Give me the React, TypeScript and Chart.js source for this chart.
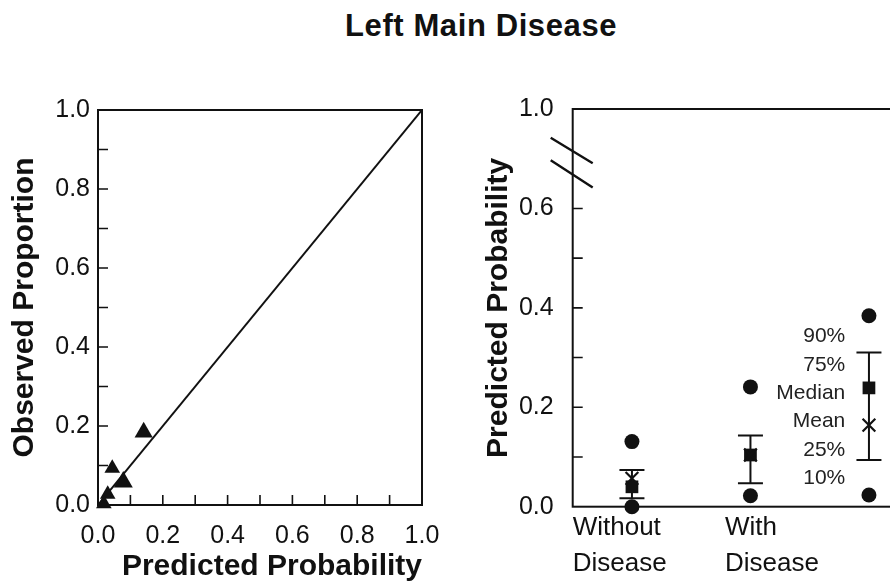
import React, { useEffect, useRef } from "react";
import { Chart, registerables } from "chart.js";

Chart.register(...registerables);

const FONT = "'Liberation Sans', Arial, Helvetica, sans-serif";
const INK = "#111111";

const TITLE = "Left Main Disease";

// ---- Left panel: calibration ----
const calibPredicted = [0.141, 0.044, 0.078, 0.03, 0.018];
const calibObserved = [0.184, 0.093, 0.058, 0.027, 0.003];
const identityX = [0, 1];
const identityY = [0, 1];
const leftTickValues = [0, 0.1, 0.2, 0.3, 0.4, 0.5, 0.6, 0.7, 0.8, 0.9, 1.0];
const leftTickLabels = ["0.0", "", "0.2", "", "0.4", "", "0.6", "", "0.8", "", "1.0"];
const leftMarkTicks = [0.1, 0.2, 0.3, 0.4, 0.5, 0.6, 0.7, 0.8, 0.9];
const leftXTitle = "Predicted Probability";
const leftYTitle = "Observed Proportion";

// ---- Right panel: distribution summaries ----
const groupLabels = [["Without", "Disease"], ["With", "Disease"]];
const groupLabelAnchors = [0, 1.285];
const groupX = [0.5, 1.5, 2.5]; // Without, With, key column
const p10 = [0.0, 0.022, 0.0235];
const p25 = [0.017, 0.047, 0.094];
const medians = [0.04, 0.104, 0.239];
const means = [0.057, 0.104, 0.164];
const p75 = [0.074, 0.143, 0.31];
const p90 = [0.131, 0.241, 0.384];
const keyLabels = ["90%", "75%", "Median", "Mean", "25%", "10%"];
const keyLabelY = [0.342, 0.285, 0.229, 0.171, 0.114, 0.057];
const keyLabelX = 2.3;
const rightYTickValues = [0, 0.1, 0.2, 0.3, 0.4, 0.5, 0.6, 0.7, 0.8];
const rightYTickLabels = ["0.0", "", "0.2", "", "0.4", "", "0.6", "", "1.0"];
const rightMarkTicks = [0.1, 0.2, 0.3, 0.4, 0.5, 0.6];
const axisBreakMarks = [
  [0.742, 0.691],
  [0.697, 0.642],
];
const rightYTitle = "Predicted Probability";

function drawBox(chart: any) {
  const { ctx, chartArea } = chart;
  ctx.save();
  ctx.strokeStyle = INK;
  ctx.lineWidth = 2;
  ctx.strokeRect(chartArea.left, chartArea.top, chartArea.right - chartArea.left, chartArea.bottom - chartArea.top);
  ctx.restore();
}

function drawInwardTicks(chart: any, xVals: number[], yVals: number[], len: number) {
  const { ctx, chartArea, scales } = chart;
  ctx.save();
  ctx.strokeStyle = INK;
  ctx.lineWidth = 1.6;
  ctx.beginPath();
  xVals.forEach((v) => {
    const px = scales.x.getPixelForValue(v);
    ctx.moveTo(px, chartArea.bottom);
    ctx.lineTo(px, chartArea.bottom - len);
  });
  yVals.forEach((v) => {
    const py = scales.y.getPixelForValue(v);
    ctx.moveTo(chartArea.left, py);
    ctx.lineTo(chartArea.left + len, py);
  });
  ctx.stroke();
  ctx.restore();
}

const leftPlugin = {
  id: "leftDecor",
  beforeDatasetsDraw(chart: any) {
    drawBox(chart);
    drawInwardTicks(chart, leftMarkTicks, leftMarkTicks, 10);
  },
};

const rightPlugin = {
  id: "rightDecor",
  beforeDatasetsDraw(chart: any) {
    const { ctx, chartArea, scales } = chart;
    drawBox(chart);
    drawInwardTicks(chart, [], rightMarkTicks, 10);
    // axis break marks
    ctx.save();
    ctx.strokeStyle = INK;
    ctx.lineWidth = 2.4;
    ctx.beginPath();
    axisBreakMarks.forEach(([a, b]) => {
      ctx.moveTo(chartArea.left - 22, scales.y.getPixelForValue(a));
      ctx.lineTo(chartArea.left + 20, scales.y.getPixelForValue(b));
    });
    ctx.stroke();
    // interquartile bars
    ctx.lineWidth = 2;
    ctx.beginPath();
    groupX.forEach((gx, i) => {
      const px = scales.x.getPixelForValue(gx);
      const yLo = scales.y.getPixelForValue(p25[i]);
      const yHi = scales.y.getPixelForValue(p75[i]);
      ctx.moveTo(px, yLo);
      ctx.lineTo(px, yHi);
      ctx.moveTo(px - 12.5, yLo);
      ctx.lineTo(px + 12.5, yLo);
      ctx.moveTo(px - 12.5, yHi);
      ctx.lineTo(px + 12.5, yHi);
    });
    ctx.stroke();
    // key labels
    ctx.fillStyle = "#222";
    ctx.font = `21px ${FONT}`;
    ctx.textAlign = "right";
    ctx.textBaseline = "middle";
    const kx = scales.x.getPixelForValue(keyLabelX);
    keyLabels.forEach((t, i) => {
      ctx.fillText(t, kx, scales.y.getPixelForValue(keyLabelY[i]));
    });
    ctx.restore();
  },
};

function LeftPanel() {
  const ref = useRef<HTMLCanvasElement>(null);
  useEffect(() => {
    const chart = new Chart(ref.current as HTMLCanvasElement, {
      type: "scatter",
      data: {
        datasets: [
          {
            data: calibPredicted.map((x, i) => ({ x, y: calibObserved[i] })),
            pointStyle: "triangle",
            pointRadius: [10.5, 9, 11, 9, 9],
            backgroundColor: INK,
            borderColor: INK,
            borderWidth: 0,
            clip: false,
          } as any,
          {
            data: identityX.map((x, i) => ({ x, y: identityY[i] })),
            showLine: true,
            pointRadius: 0,
            borderColor: INK,
            borderWidth: 2,
          } as any,
        ],
      },
      options: {
        responsive: false,
        animation: false,
        events: [],
        layout: { padding: { left: 0, top: 110, right: 48, bottom: 0 } },
        plugins: { legend: { display: false }, tooltip: { enabled: false } },
        scales: {
          x: {
            type: "linear",
            min: 0,
            max: 1,
            afterBuildTicks: (s: any) => {
              s.ticks = leftTickValues.map((v) => ({ value: v }));
            },
            afterFit: (s: any) => {
              s.height = 80;
            },
            grid: { display: false, drawTicks: false },
            border: { display: false },
            ticks: {
              autoSkip: false,
              maxRotation: 0,
              padding: 16,
              color: INK,
              font: { family: FONT, size: 25 },
              callback: (_v: any, i: number) => leftTickLabels[i],
            },
            title: {
              display: true,
              text: leftXTitle,
              align: "end",
              color: INK,
              font: { family: FONT, size: 30, weight: "bold" },
              padding: { top: 0, bottom: 0 },
            },
          },
          y: {
            type: "linear",
            min: 0,
            max: 1,
            afterBuildTicks: (s: any) => {
              s.ticks = leftTickValues.map((v) => ({ value: v }));
            },
            afterFit: (s: any) => {
              s.width = 98;
            },
            grid: { display: false, drawTicks: false },
            border: { display: false },
            ticks: {
              autoSkip: false,
              padding: 8,
              color: INK,
              font: { family: FONT, size: 25 },
              callback: (_v: any, i: number) => leftTickLabels[i],
            },
            title: {
              display: true,
              text: leftYTitle,
              color: INK,
              font: { family: FONT, size: 30, weight: "bold" },
              padding: { top: 6.6, bottom: 0 },
            },
          },
        },
      } as any,
      plugins: [leftPlugin],
    });
    return () => chart.destroy();
  }, []);
  return <canvas ref={ref} width={470} height={585} style={{ position: "absolute", left: 0, top: 0, width: 470, height: 585 }} />;
}

function RightPanel() {
  const ref = useRef<HTMLCanvasElement>(null);
  useEffect(() => {
    const chart = new Chart(ref.current as HTMLCanvasElement, {
      type: "scatter",
      data: {
        datasets: [
          {
            data: groupX.map((x, i) => ({ x, y: means[i] })),
            pointStyle: "crossRot",
            pointRadius: 9,
            borderColor: INK,
            borderWidth: 2.2,
            clip: false,
          } as any,
          {
            data: groupX.map((x, i) => ({ x, y: medians[i] })),
            pointStyle: "rect",
            pointRadius: 9,
            backgroundColor: INK,
            borderWidth: 0,
            clip: false,
          } as any,
          {
            data: groupX.flatMap((x, i) => [
              { x, y: p10[i] },
              { x, y: p90[i] },
            ]),
            pointStyle: "circle",
            pointRadius: 7.5,
            backgroundColor: INK,
            borderWidth: 0,
            clip: false,
          } as any,
        ],
      },
      options: {
        responsive: false,
        animation: false,
        events: [],
        layout: { padding: { left: 0, top: 109, right: 21.8, bottom: 0 } },
        plugins: { legend: { display: false }, tooltip: { enabled: false } },
        scales: {
          x: {
            type: "linear",
            min: 0,
            max: 3,
            afterBuildTicks: (s: any) => {
              s.ticks = groupLabelAnchors.map((v) => ({ value: v }));
            },
            afterFit: (s: any) => {
              s.height = 78.3;
            },
            grid: { display: false, drawTicks: false },
            border: { display: false },
            ticks: {
              autoSkip: false,
              maxRotation: 0,
              align: "start",
              padding: 3,
              color: INK,
              font: { family: FONT, size: 26, lineHeight: 1.4 },
              callback: (_v: any, i: number) => groupLabels[i],
            },
          },
          y: {
            type: "linear",
            min: 0,
            max: 0.8,
            afterBuildTicks: (s: any) => {
              s.ticks = rightYTickValues.map((v) => ({ value: v }));
            },
            afterFit: (s: any) => {
              s.width = 102.7;
            },
            grid: { display: false, drawTicks: false },
            border: { display: false },
            ticks: {
              autoSkip: false,
              padding: 19,
              color: INK,
              font: { family: FONT, size: 25 },
              callback: (_v: any, i: number) => rightYTickLabels[i],
            },
            title: {
              display: true,
              text: rightYTitle,
              color: INK,
              font: { family: FONT, size: 30, weight: "bold" },
              padding: { top: 10.6, bottom: 0 },
            },
          },
        },
      } as any,
      plugins: [rightPlugin],
    });
    return () => chart.destroy();
  }, []);
  return <canvas ref={ref} width={480} height={585} style={{ position: "absolute", left: 470, top: 0, width: 480, height: 585 }} />;
}

export default function App() {
  return (
    <div
      style={{
        position: "absolute",
        left: 0,
        top: 0,
        width: 890,
        height: 585,
        overflow: "hidden",
        background: "#fff",
      }}
    >
      <div
        style={{
          position: "absolute",
          left: 345,
          top: 10,
          fontFamily: FONT,
          fontWeight: "bold",
          fontSize: 31,
          lineHeight: "31px",
          letterSpacing: "0.6px",
          color: INK,
          whiteSpace: "nowrap",
        }}
      >
        {TITLE}
      </div>
      <LeftPanel />
      <RightPanel />
    </div>
  );
}
